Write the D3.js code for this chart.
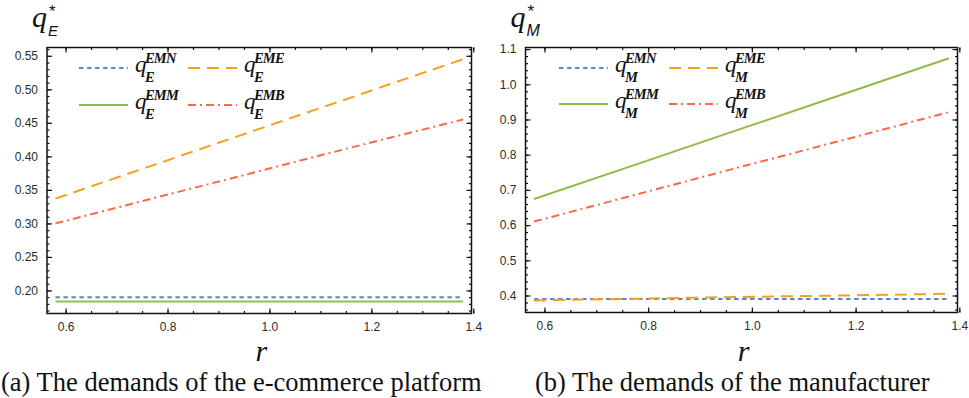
<html>
<head>
  <meta charset="UTF-8">
  <title>Demands vs r</title>
  <script src="https://d3js.org/d3.v7.min.js"></script>
  <style>
    body { margin: 0; background: white; }
    .tick text { font-family: "Liberation Sans", Arial, sans-serif; font-size: 12px; fill: #2d2d2d; }
    .serif { font-family: "Liberation Serif", "Times New Roman", serif; }
  </style>
</head>
<body>
<svg id="chart"></svg>
<script>
  let width = 969;
  let height = 398;

  // r values read along the horizontal axis
  let rVals = [0.58, 0.78, 0.98, 1.18, 1.38];

  // (a) e-commerce platform demands
  let qE_EMN = [0.190, 0.190, 0.190, 0.190, 0.190];
  let qE_EME = [0.337, 0.389, 0.441, 0.493, 0.545];
  let qE_EMM = [0.1835, 0.1835, 0.1835, 0.1835, 0.1835];
  let qE_EMB = [0.300, 0.339, 0.378, 0.417, 0.455];

  // (b) manufacturer demands
  let qM_EMN = [0.390, 0.390, 0.390, 0.390, 0.390];
  let qM_EME = [0.386, 0.391, 0.396, 0.400, 0.405];
  let qM_EMM = [0.674, 0.774, 0.874, 0.974, 1.074];
  let qM_EMB = [0.610, 0.688, 0.766, 0.843, 0.921];

  let xTicks = [0.6, 0.8, 1.0, 1.2, 1.4];
  let yTicksE = [0.20, 0.25, 0.30, 0.35, 0.40, 0.45, 0.50, 0.55];
  let yTicksM = [0.4, 0.5, 0.6, 0.7, 0.8, 0.9, 1.0, 1.1];

  let seriesNames = ["EMN", "EME", "EMM", "EMB"];
  let colors = { EMN: "#5b86c4", EME: "#f5a020", EMM: "#8fbb4a", EMB: "#fb6a48" };
  let dashes = { EMN: "4.5,3.5", EME: "12,7", EMM: null, EMB: "8,4,2,4" };

  let svg = d3.select("#chart")
              .attr("width", width)
              .attr("height", height)
              .style("font-family", "Liberation Serif");

  function drawPanel(opt) {
    let g = svg.append("g");
    let x = d3.scaleLinear().domain([0.5635, 1.3965]).range([opt.left, opt.right]);
    let y = d3.scaleLinear().domain(opt.yDomain).range([opt.bottom, opt.top]);

    let minorX = d3.range(0.6, 1.401, 0.05);
    let minorY = d3.range(Math.ceil(opt.yDomain[0] / opt.yMinor), Math.floor(opt.yDomain[1] / opt.yMinor) + 1)
                   .map(i => i * opt.yMinor);

    // frame axes, ticks pointing inwards
    g.append("g").attr("transform", `translate(0,${opt.bottom})`)
      .call(d3.axisBottom(x).tickValues(minorX).tickSize(-2.5).tickFormat(""));
    g.append("g").attr("transform", `translate(0,${opt.bottom})`)
      .call(d3.axisBottom(x).tickValues(xTicks).tickSize(-5).tickPadding(9).tickFormat(d3.format(".1f")));
    g.append("g").attr("transform", `translate(0,${opt.top})`)
      .call(d3.axisTop(x).tickValues(minorX).tickSize(-2.5).tickFormat(""));
    g.append("g").attr("transform", `translate(0,${opt.top})`)
      .call(d3.axisTop(x).tickValues(xTicks).tickSize(-5).tickFormat(""));

    g.append("g").attr("transform", `translate(${opt.left},0)`)
      .call(d3.axisLeft(y).tickValues(minorY).tickSize(-2.5).tickFormat(""));
    g.append("g").attr("transform", `translate(${opt.left},0)`)
      .call(d3.axisLeft(y).tickValues(opt.yTicks).tickSize(-5).tickPadding(9).tickFormat(d3.format(opt.yFormat)));
    g.append("g").attr("transform", `translate(${opt.right},0)`)
      .call(d3.axisRight(y).tickValues(minorY).tickSize(-2.5).tickFormat(""));
    g.append("g").attr("transform", `translate(${opt.right},0)`)
      .call(d3.axisRight(y).tickValues(opt.yTicks).tickSize(-5).tickFormat(""));

    g.selectAll(".domain").remove();
    g.selectAll(".tick line").attr("stroke", "#111").attr("stroke-width", 1.2);

    g.append("rect")
      .attr("x", opt.left).attr("y", opt.top)
      .attr("width", opt.right - opt.left).attr("height", opt.bottom - opt.top)
      .attr("fill", "none").attr("stroke", "#111").attr("stroke-width", 1.5);

    let line = d3.line().x((d, i) => x(rVals[i])).y(d => y(d));

    seriesNames.forEach(name => {
      g.append("path")
        .datum(opt.series[name])
        .attr("d", line)
        .attr("fill", "none")
        .attr("stroke", colors[name])
        .attr("stroke-width", 2)
        .attr("stroke-dasharray", dashes[name]);
    });

    // legend
    let legendPos = [
      { name: "EMN", col: 0, row: 0 },
      { name: "EME", col: 1, row: 0 },
      { name: "EMM", col: 0, row: 1 },
      { name: "EMB", col: 1, row: 1 }
    ];
    legendPos.forEach(p => {
      let lx = opt.legX[p.col];
      let ly = opt.legY[p.row];
      g.append("line")
        .attr("x1", lx).attr("x2", lx + 49)
        .attr("y1", ly).attr("y2", ly)
        .attr("stroke", colors[p.name])
        .attr("stroke-width", 2)
        .attr("stroke-dasharray", dashes[p.name]);
      g.append("text").attr("class", "serif").attr("fill", "#111")
        .attr("x", lx + 56).attr("y", ly + 4)
        .attr("font-style", "italic").attr("font-size", 23).text("q");
      g.append("text").attr("class", "serif").attr("fill", "#111")
        .attr("x", lx + 66).attr("y", ly - 5)
        .attr("font-style", "italic").attr("font-weight", "bold").attr("font-size", 14.5)
        .attr("letter-spacing", -0.8)
        .text(p.name);
      g.append("text").attr("class", "serif").attr("fill", "#111")
        .attr("x", lx + 66).attr("y", ly + 14)
        .attr("font-style", "italic").attr("font-weight", "bold").attr("font-size", 14.5)
        .text(opt.sub);
    });

    // axis titles
    g.append("text").attr("class", "serif").attr("fill", "#111")
      .attr("x", opt.left - 15).attr("y", 27)
      .attr("font-style", "italic").attr("font-size", 30).text("q");
    g.append("text").attr("fill", "#111")
      .attr("x", opt.left + 2).attr("y", 17)
      .attr("font-family", "Liberation Sans").attr("font-size", 17).text("*");
    g.append("text").attr("fill", "#111")
      .attr("x", opt.left + 1).attr("y", 36)
      .attr("font-family", "Liberation Sans").attr("font-style", "italic").attr("font-size", opt.subSize)
      .text(opt.sub);

    g.append("text").attr("class", "serif")
      .attr("x", (opt.left + opt.right) / 2 + 2).attr("y", 361)
      .attr("text-anchor", "middle")
      .attr("font-style", "italic").attr("font-size", 30)
      .attr("fill", "#111").text("r");

    g.append("text").attr("class", "serif")
      .attr("x", opt.capX).attr("y", 391)
      .attr("font-size", 26.5)
      .attr("fill", "#111").text(opt.caption);
  }

  drawPanel({
    left: 47, right: 471.5, top: 47.5, bottom: 313.5,
    yDomain: [0.1656, 0.5624], yTicks: yTicksE, yMinor: 0.01, yFormat: ".2f",
    series: { EMN: qE_EMN, EME: qE_EME, EMM: qE_EMM, EMB: qE_EMB },
    legX: [79, 188], legY: [68, 105],
    sub: "E", subSize: 15,
    capX: 1, caption: "(a) The demands of the e-commerce platform"
  });

  drawPanel({
    left: 525.5, right: 957.5, top: 47.5, bottom: 312.5,
    yDomain: [0.3517, 1.1045], yTicks: yTicksM, yMinor: 0.02, yFormat: ".1f",
    series: { EMN: qM_EMN, EME: qM_EME, EMM: qM_EMM, EMB: qM_EMB },
    legX: [559, 669], legY: [68, 104],
    sub: "M", subSize: 16,
    capX: 535, caption: "(b) The demands of the manufacturer"
  });
</script>
</body>
</html>
